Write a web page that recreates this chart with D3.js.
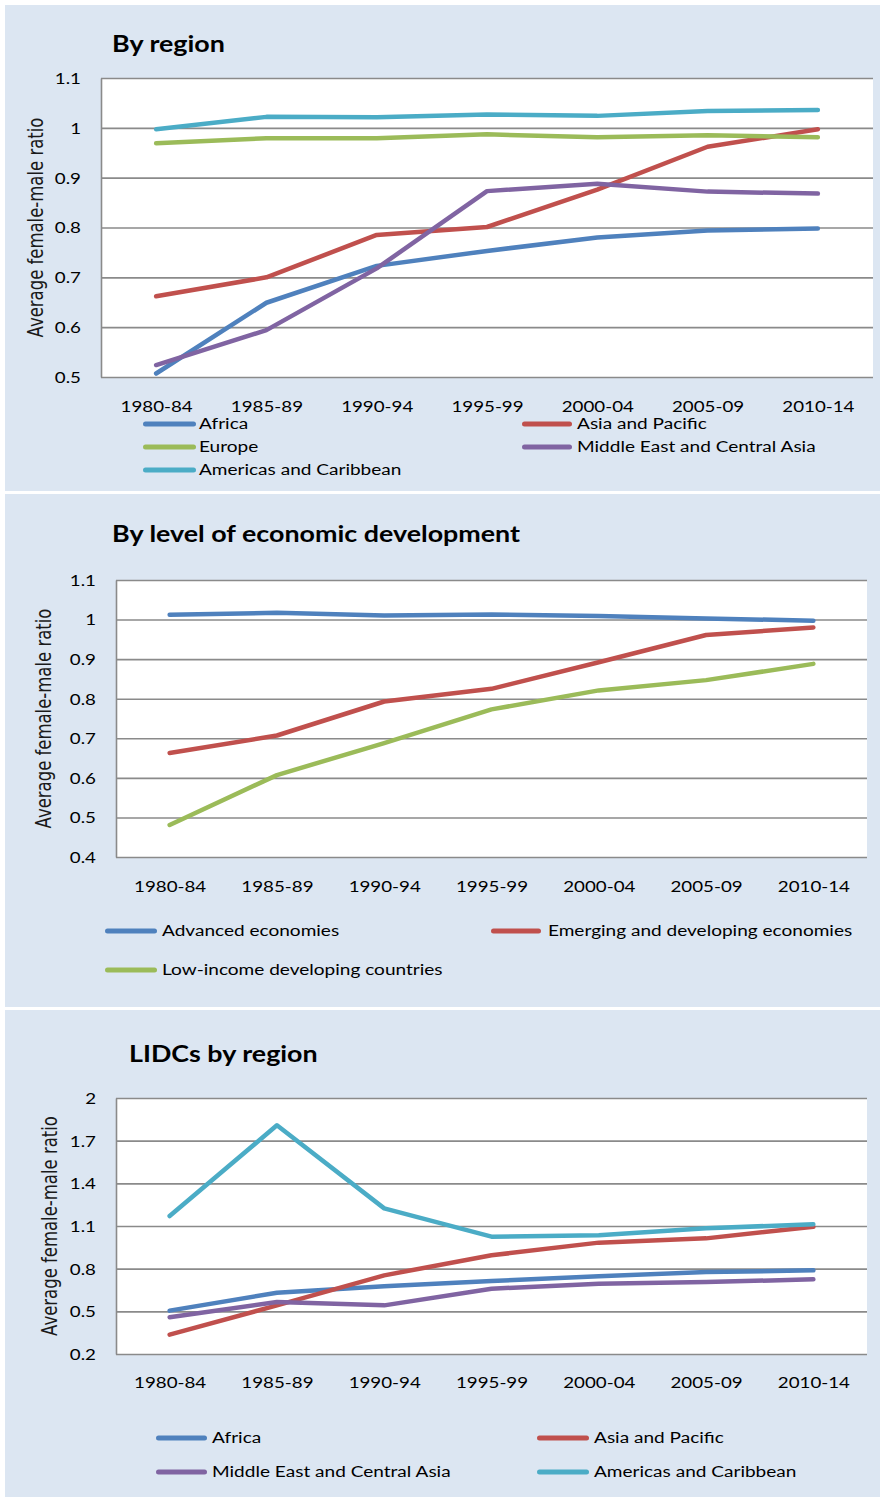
<!DOCTYPE html>
<html>
<head>
<meta charset="utf-8">
<script src="https://cdn.jsdelivr.net/npm/d3@7"></script>
<style>
  body { margin: 0; background: #fff; }
  svg { display: block; }
</style>
</head>
<body>
<svg id="chart" width="880" height="1497"></svg>
<script>
// ---- Data -------------------------------------------------------------
const periods = ["1980-84", "1985-89", "1990-94", "1995-99", "2000-04", "2005-09", "2010-14"];

// By region
const regionAfrica       = [0.507, 0.649, 0.723, 0.753, 0.780, 0.794, 0.798];
const regionAsiaPacific  = [0.662, 0.700, 0.785, 0.801, 0.876, 0.962, 0.997];
const regionEurope       = [0.969, 0.979, 0.979, 0.987, 0.981, 0.985, 0.981];
const regionMiddleEast   = [0.524, 0.594, 0.718, 0.873, 0.888, 0.872, 0.868];
const regionAmericas     = [0.997, 1.022, 1.021, 1.027, 1.024, 1.034, 1.036];
const regionTicks        = [0.5, 0.6, 0.7, 0.8, 0.9, 1.0, 1.1];

// By level of economic development
const devAdvanced        = [1.012, 1.017, 1.010, 1.013, 1.009, 1.003, 0.997];
const devEmerging        = [0.663, 0.707, 0.793, 0.825, 0.892, 0.961, 0.980];
const devLowIncome       = [0.481, 0.607, 0.688, 0.773, 0.821, 0.847, 0.888];
const devTicks           = [0.4, 0.5, 0.6, 0.7, 0.8, 0.9, 1.0, 1.1];

// LIDCs by region
const lidcAfrica         = [0.505, 0.631, 0.676, 0.713, 0.746, 0.776, 0.788];
const lidcAsiaPacific    = [0.336, 0.542, 0.753, 0.894, 0.983, 1.013, 1.095];
const lidcMiddleEast     = [0.458, 0.565, 0.542, 0.659, 0.694, 0.706, 0.725];
const lidcAmericas       = [1.170, 1.808, 1.224, 1.025, 1.035, 1.084, 1.112];
const lidcTicks          = [0.2, 0.5, 0.8, 1.1, 1.4, 1.7, 2.0];

// ---- Styling ----------------------------------------------------------
const C = { blue: "#4f81bd", red: "#c0504d", green: "#9bbb59", purple: "#8064a2", aqua: "#4bacc6" };
const PANEL_BG = "#dce6f2";
const GRID = "#8a8a8a";
const SX = 1.25;                 // horizontal stretch of tick labels and axis title
const SX_LEGEND = 1.27;
const SX_TITLE = 1.167;
const FONT = "Lato, 'Open Sans', sans-serif";
const YTITLE = "Average female-male ratio";

const panels = [
  {
    box: [5, 5, 880, 491],
    title: "By region", titleX: 112, titleY: 52,
    plot: { l: 101, r: 873, t: 78, b: 377 },
    domain: [0.5, 1.1], ticks: regionTicks,
    yTitleX: 43, xLabelDy: 35,
    series: [
      { name: "Africa", values: regionAfrica, color: C.blue },
      { name: "Asia and Pacific", values: regionAsiaPacific, color: C.red },
      { name: "Europe", values: regionEurope, color: C.green },
      { name: "Middle East and Central Asia", values: regionMiddleEast, color: C.purple },
      { name: "Americas and Caribbean", values: regionAmericas, color: C.aqua }
    ],
    legend: { cols: [[143, 196, 199], [522, 572, 577]], rows: [424, 447, 470] }
  },
  {
    box: [5, 494, 880, 1007],
    title: "By level of economic development", titleX: 112, titleY: 542,
    plot: { l: 116, r: 867, t: 580, b: 857 },
    domain: [0.4, 1.1], ticks: devTicks,
    yTitleX: 51, xLabelDy: 35,
    series: [
      { name: "Advanced economies", values: devAdvanced, color: C.blue },
      { name: "Emerging and developing economies", values: devEmerging, color: C.red },
      { name: "Low-income developing countries", values: devLowIncome, color: C.green }
    ],
    legend: { cols: [[105, 157, 162], [491, 541, 548]], rows: [931, 970] }
  },
  {
    box: [5, 1010, 880, 1497],
    title: "LIDCs by region", titleX: 129, titleY: 1062,
    plot: { l: 116, r: 867, t: 1098, b: 1354 },
    domain: [0.2, 2.0], ticks: lidcTicks,
    yTitleX: 57, xLabelDy: 34,
    series: [
      { name: "Africa", values: lidcAfrica, color: C.blue },
      { name: "Asia and Pacific", values: lidcAsiaPacific, color: C.red },
      { name: "Middle East and Central Asia", values: lidcMiddleEast, color: C.purple },
      { name: "Americas and Caribbean", values: lidcAmericas, color: C.aqua }
    ],
    legend: { cols: [[156, 207, 212], [537, 589, 594]], rows: [1438, 1472] }
  }
];

const svg = d3.select("#chart");
const fmt = d => String(+d.toFixed(1));

panels.forEach(p => {
  const [x0, y0, x1, y1] = p.box;
  const g = svg.append("g");

  // panel background
  g.append("rect").attr("x", x0).attr("y", y0)
    .attr("width", x1 - x0).attr("height", y1 - y0).attr("fill", PANEL_BG);

  // title
  g.append("text")
    .attr("transform", `translate(${p.titleX},${p.titleY}) scale(${SX_TITLE},1)`)
    .attr("font-family", FONT).attr("font-weight", 700).attr("font-size", 23)
    .attr("fill", "#000").text(p.title);

  const { l, r, t, b } = p.plot;
  const x = d3.scalePoint().domain(periods).range([l, r]).padding(0.5);
  const y = d3.scaleLinear().domain(p.domain).range([b, t]);

  // plot area
  g.append("rect").attr("x", l).attr("y", t).attr("width", r - l).attr("height", b - t).attr("fill", "#fff");

  // gridlines + left axis line
  const grid = g.append("g").attr("transform", `translate(${l},0)`)
    .call(d3.axisLeft(y).tickValues(p.ticks).tickSize(-(r - l)).tickSizeOuter(0).tickFormat(""));
  grid.selectAll("line").attr("stroke", GRID).attr("stroke-width", 1.6);
  grid.select(".domain").attr("stroke", GRID).attr("stroke-width", 1.6);

  // y tick labels
  const yAx = g.append("g").attr("transform", `translate(${l},0)`)
    .call(d3.axisLeft(y).tickValues(p.ticks).tickSize(0).tickFormat(fmt));
  yAx.select(".domain").remove();
  yAx.selectAll("text")
    .attr("x", -20 / SX).attr("dy", "0.36em")
    .attr("transform", `scale(${SX},1)`)
    .attr("font-family", FONT).attr("font-size", 15).attr("fill", "#000");

  // x tick labels
  const xAx = g.append("g").attr("transform", `translate(0,${b})`)
    .call(d3.axisBottom(x).tickSize(0));
  xAx.select(".domain").remove();
  xAx.selectAll("text")
    .attr("y", p.xLabelDy).attr("dy", 0)
    .attr("transform", `scale(${SX},1)`)
    .attr("font-family", FONT).attr("font-size", 15).attr("fill", "#000");

  // y axis title
  g.append("text")
    .attr("transform", `translate(${p.yTitleX},${(t + b) / 2}) scale(${SX},1) rotate(-90)`)
    .attr("text-anchor", "middle")
    .attr("font-family", "'DejaVu Sans', Verdana, sans-serif").attr("font-size", 16.5)
    .attr("fill", "#1a1a1a").text(YTITLE);

  // series lines
  const line = d3.line().x((d, i) => x(periods[i])).y(d => y(d));
  p.series.forEach(s => {
    g.append("path").datum(s.values)
      .attr("d", line).attr("fill", "none")
      .attr("stroke", s.color).attr("stroke-width", 4.5)
      .attr("stroke-linejoin", "round").attr("stroke-linecap", "round");
  });

  // legend
  p.series.forEach((s, i) => {
    const col = p.legend.cols[i % 2];
    const row = p.legend.rows[Math.floor(i / 2)];
    g.append("line")
      .attr("x1", col[0] + 2.5).attr("x2", col[1] - 2.5)
      .attr("y1", row).attr("y2", row)
      .attr("stroke", s.color).attr("stroke-width", 5).attr("stroke-linecap", "round");
    g.append("text")
      .attr("transform", `translate(${col[2]},${row}) scale(${SX_LEGEND},1)`)
      .attr("dy", "0.36em")
      .attr("font-family", FONT).attr("font-size", 15).attr("fill", "#000")
      .text(s.name);
  });
});
</script>
</body>
</html>
